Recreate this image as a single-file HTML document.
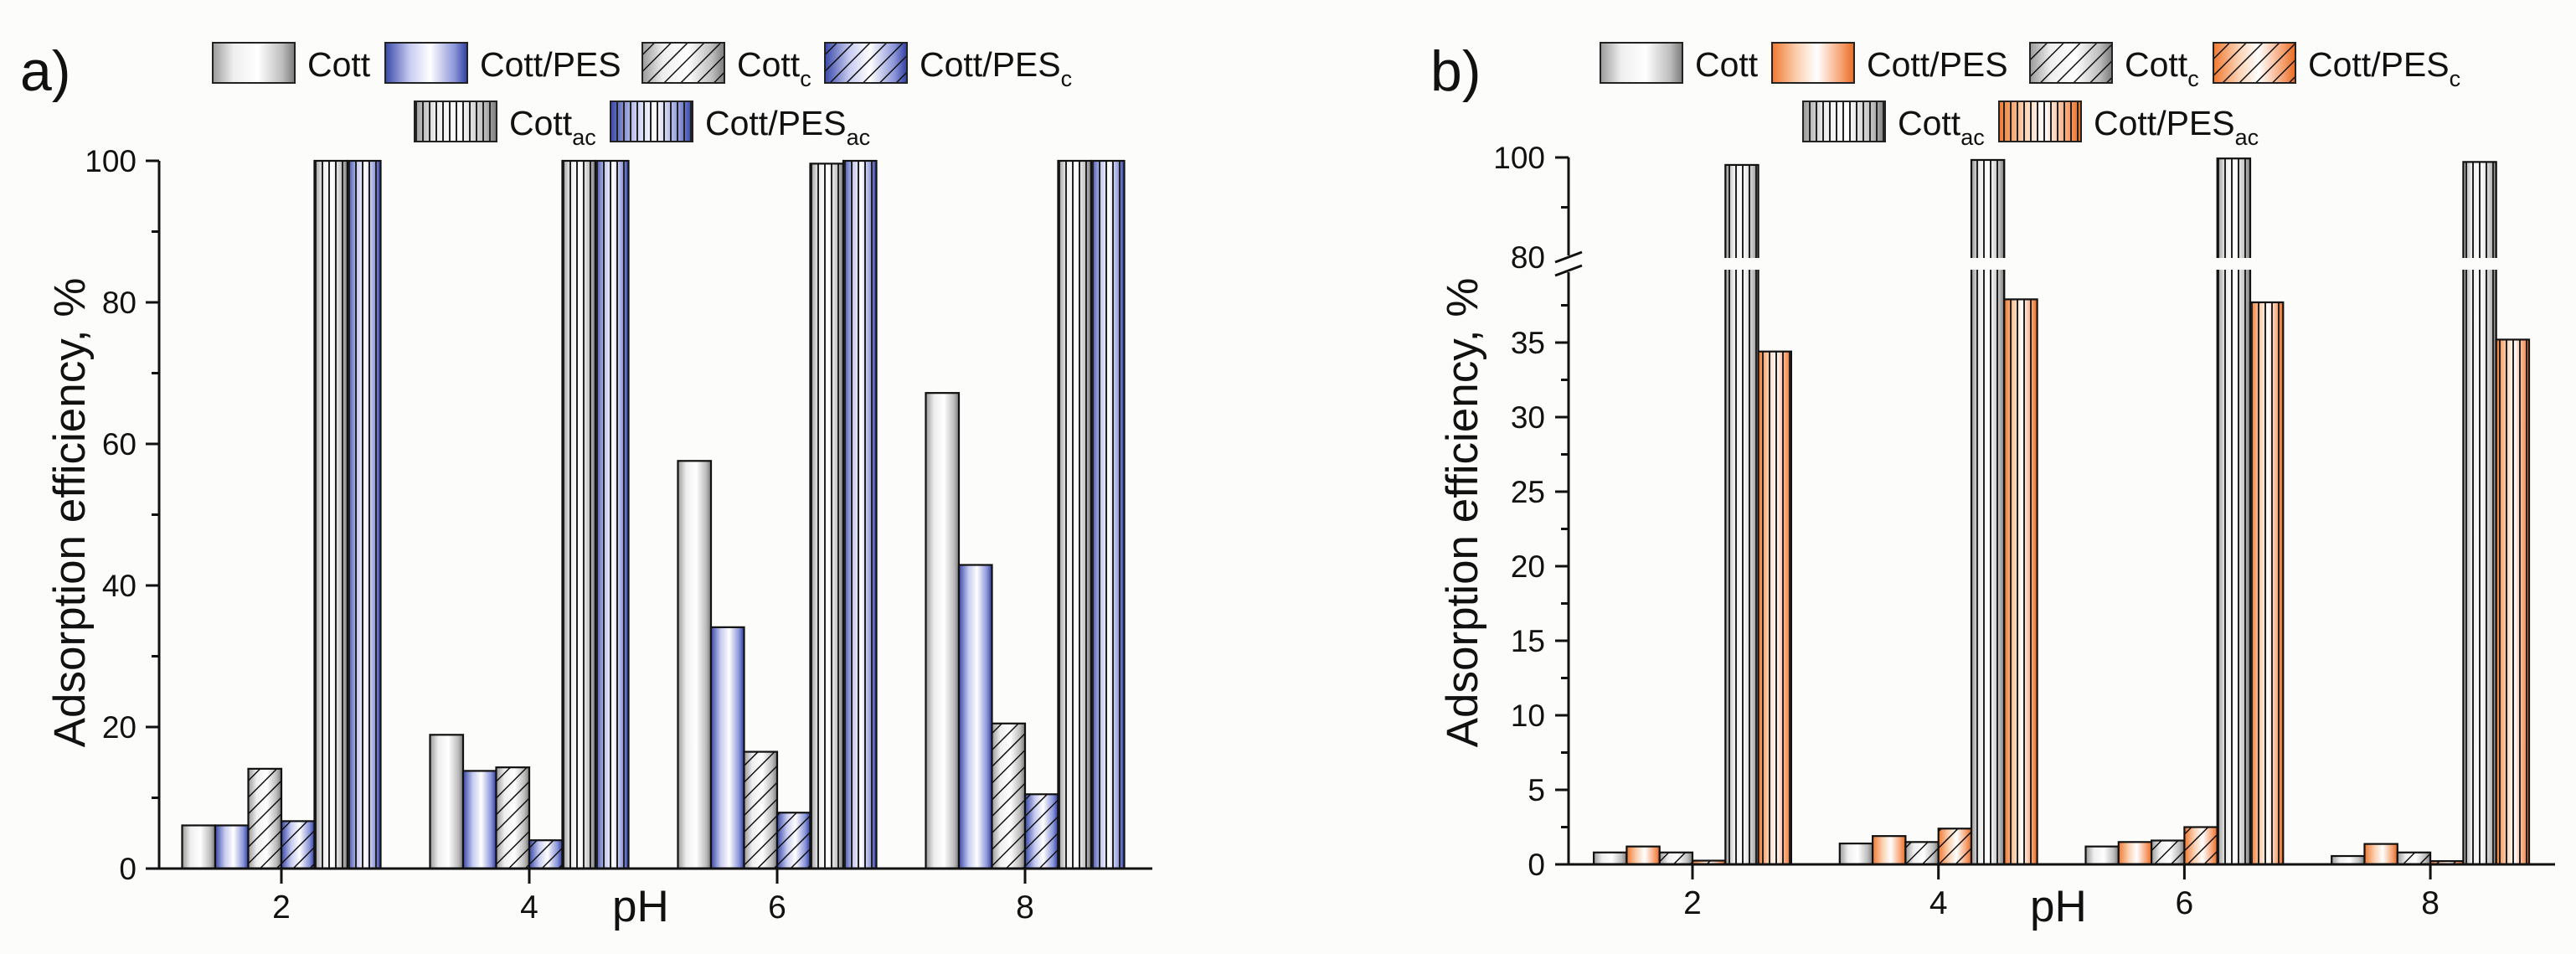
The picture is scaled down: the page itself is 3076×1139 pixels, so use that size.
<!DOCTYPE html>
<html><head><meta charset="utf-8"><style>
html,body{margin:0;padding:0;background:#fcfcfa;}
svg{display:block;font-family:"Liberation Sans",Arial,sans-serif;}
</style></head><body>
<svg id="fig" width="3076" height="1139" viewBox="0 0 3076 1139" xmlns="http://www.w3.org/2000/svg">
<defs>
<linearGradient id="gGray" x1="0" x2="1" y1="0" y2="0"><stop offset="0" stop-color="#9a9a9a"/><stop offset="0.25" stop-color="#eeeeee"/><stop offset="0.55" stop-color="#ffffff"/><stop offset="0.85" stop-color="#bdbdbd"/><stop offset="1" stop-color="#7a7a7a"/></linearGradient>
<linearGradient id="gBlue" x1="0" x2="1" y1="0" y2="0"><stop offset="0" stop-color="#3848a8"/><stop offset="0.3" stop-color="#c8ccf0"/><stop offset="0.55" stop-color="#ffffff"/><stop offset="0.85" stop-color="#8a94d8"/><stop offset="1" stop-color="#2e3ea0"/></linearGradient>
<linearGradient id="gOrange" x1="0" x2="1" y1="0" y2="0"><stop offset="0" stop-color="#f07830"/><stop offset="0.3" stop-color="#fbd0b0"/><stop offset="0.55" stop-color="#ffffff"/><stop offset="0.85" stop-color="#f6a070"/><stop offset="1" stop-color="#e86a20"/></linearGradient>
<pattern id="hatch" patternUnits="userSpaceOnUse" width="14" height="14" patternTransform="rotate(45)"><line x1="0" y1="0" x2="0" y2="14" stroke="#111" stroke-width="3"/></pattern>
<pattern id="vstripe" patternUnits="userSpaceOnUse" width="8" height="10"><line x1="1" y1="0" x2="1" y2="10" stroke="#222" stroke-width="2"/></pattern>
</defs>
<g id="root"></g>
</svg>
<script>
const categories = ["2", "4", "6", "8"];
const seriesNames = ["Cott", "Cott/PES", "Cott_c", "Cott/PES_c", "Cott_ac", "Cott/PES_ac"];
// panel a values
const aCott = [6.1, 18.9, 57.6, 67.2];
const aCottPES = [6.1, 13.8, 34.1, 42.9];
const aCottC = [14.1, 14.3, 16.5, 20.5];
const aCottPESC = [6.7, 4.0, 7.9, 10.5];
const aCottAC = [100, 100, 99.6, 100];
const aCottPESAC = [100, 100, 100, 100];
// panel b values
const bCott = [0.8, 1.4, 1.2, 0.56];
const bCottPES = [1.2, 1.9, 1.5, 1.37];
const bCottC = [0.8, 1.5, 1.6, 0.8];
const bCottPESC = [0.25, 2.4, 2.5, 0.22];
const bCottAC = [98.5, 99.5, 99.8, 99.1];
const bCottPESAC = [34.4, 37.9, 37.7, 35.2];
const aTicks = [0, 20, 40, 60, 80, 100];
const aMinor = [10, 30, 50, 70, 90];
const bTicksLow = [0, 5, 10, 15, 20, 25, 30, 35];
const bMinorLow = [2.5, 7.5, 12.5, 17.5, 22.5, 27.5, 32.5, 37.5];
const bTicksHigh = [80, 100];
const bMinorHigh = [90];

const NS = "http://www.w3.org/2000/svg";
const root = document.getElementById('root');
function mk(tag, attrs, parent) {
  const e = document.createElementNS(NS, tag);
  for (const k in attrs) e.setAttribute(k, attrs[k]);
  (parent || root).appendChild(e);
  return e;
}
function yA(v) { return 1037 - v * 8.45; }
function xA(i, j) { return 336 + i * 296 + (j - 3) * 39.5; }
function yB(v) { return v <= 40 ? 1032 - v * 17.8 : 307 - (v - 80) * 5.95; }
function xB(i, j) { return 2021 + i * 293.7 + (j - 3) * 39.3; }

function drawBar(x, y0, y1, w, fill, overlay, name, parent) {
  const g = mk('g', {}, parent);
  
  
  mk('rect', {x: x, y: y1, width: w, height: y0 - y1, fill: fill}, g);
  if (overlay) mk('rect', {x: x, y: y1, width: w, height: y0 - y1, fill: overlay}, g);
  mk('rect', {x: x, y: y1, width: w, height: y0 - y1, fill: 'none', stroke: '#111', 'stroke-width': 2.2}, g);
  return g;
}
const fills = [['url(#gGray)', null], ['COLOR', null], ['url(#gGray)', 'url(#hatch)'], ['COLOR', 'url(#hatch)'], ['url(#gGray)', 'url(#vstripe)'], ['COLOR', 'url(#vstripe)']];

function panel(opts) {
  const g = mk('g', {});
  
  
  const data = opts.data;
  for (let j = 0; j < 6; j++) {
    for (let i = 0; i < categories.length; i++) {
      const f = fills[j][0] === 'COLOR' ? opts.color : fills[j][0];
      const x = opts.x(i, j);
      drawBar(x, opts.y(0), opts.y(data[j][i]), opts.bw, f, fills[j][1], 'bar-' + seriesNames[j].toLowerCase().replace(/[\/_]/g, '-') + '-ph' + categories[i], g);
    }
  }
  return g;
}
const gA = panel({name: 'chart-a', data: [aCott, aCottPES, aCottC, aCottPESC, aCottAC, aCottPESAC], x: xA, y: yA, bw: 39.5, color: 'url(#gBlue)'});
const gB = panel({name: 'chart-b', data: [bCott, bCottPES, bCottC, bCottPESC, bCottAC, bCottPESAC], x: xB, y: yB, bw: 39.3, color: 'url(#gOrange)'});
const gap = mk('rect', {x: 1880, y: 308, width: 1180, height: 14, fill: '#fcfcfa'}, gB);



const axA = mk('g', {stroke: '#111', 'stroke-width': 3, fill: 'none'});


mk('line', {x1: 190, y1: 192, x2: 190, y2: 1037}, axA);
mk('line', {x1: 174, y1: 1037, x2: 1376, y2: 1037}, axA);
aTicks.forEach(v => mk('line', {x1: 174, y1: yA(v), x2: 190, y2: yA(v)}, axA));
aMinor.forEach(v => mk('line', {x1: 181, y1: yA(v), x2: 190, y2: yA(v)}, axA));
categories.forEach((c, i) => mk('line', {x1: xA(i, 3), y1: 1037, x2: xA(i, 3), y2: 1055}, axA));
aTicks.forEach(v => {
  const t = mk('text', {x: 163, y: yA(v) + 13, 'text-anchor': 'end', 'font-size': 37, fill: '#111'});
  t.textContent = v;
  
  
});
categories.forEach((c, i) => {
  const t = mk('text', {x: xA(i, 3), y: 1096, 'text-anchor': 'middle', 'font-size': 39, fill: '#111'});
  t.textContent = c;
  
  
});

const axB = mk('g', {stroke: '#111', 'stroke-width': 3, fill: 'none'});


mk('line', {x1: 1873, y1: 188, x2: 1873, y2: 305}, axB);
mk('line', {x1: 1873, y1: 325, x2: 1873, y2: 1032}, axB);
mk('line', {x1: 1857, y1: 1032, x2: 3051, y2: 1032}, axB);
mk('line', {x1: 1857, y1: 313, x2: 1889, y2: 301}, axB);
mk('line', {x1: 1857, y1: 329, x2: 1889, y2: 317}, axB);
bTicksLow.forEach(v => mk('line', {x1: 1857, y1: yB(v), x2: 1873, y2: yB(v)}, axB));
bMinorLow.forEach(v => mk('line', {x1: 1864, y1: yB(v), x2: 1873, y2: yB(v)}, axB));
bTicksHigh.forEach(v => { if (v !== 80) mk('line', {x1: 1857, y1: yB(v), x2: 1873, y2: yB(v)}, axB); });
bMinorHigh.forEach(v => mk('line', {x1: 1864, y1: yB(v), x2: 1873, y2: yB(v)}, axB));
categories.forEach((c, i) => mk('line', {x1: xB(i, 3), y1: 1032, x2: xB(i, 3), y2: 1050}, axB));
bTicksLow.concat(bTicksHigh).forEach(v => {
  const t = mk('text', {x: 1845, y: yB(v) + 13, 'text-anchor': 'end', 'font-size': 37, fill: '#111'});
  t.textContent = v;
  
  
});
categories.forEach((c, i) => {
  const t = mk('text', {x: xB(i, 3), y: 1091, 'text-anchor': 'middle', 'font-size': 39, fill: '#111'});
  t.textContent = c;
  
  
});

function legendItem(sx, sy, fill, overlay, label, sub, name) {
  const g = mk('g', {});
  
  
  mk('rect', {x: sx, y: sy, width: 98, height: 48, fill: fill}, g);
  if (overlay) mk('rect', {x: sx, y: sy, width: 98, height: 48, fill: overlay}, g);
  mk('rect', {x: sx, y: sy, width: 98, height: 48, fill: 'none', stroke: '#222', 'stroke-width': 2}, g);
  const t = mk('text', {x: sx + 113, y: sy + 40, 'font-size': 41, fill: '#111'}, g);
  t.textContent = label;
  if (sub) {
    const s = mk('tspan', {'font-size': 27, dy: 12}, t);
    s.textContent = sub;
  }
}
function legend(x0, c, sxs, pfx) {
  legendItem(sxs[0], 51, 'url(#gGray)', null, 'Cott', '', pfx + 'legend-cott');
  legendItem(sxs[1], 51, c, null, 'Cott/PES', '', pfx + 'legend-cott-pes');
  legendItem(sxs[2], 51, 'url(#gGray)', 'url(#hatch)', 'Cott', 'c', pfx + 'legend-cott-c');
  legendItem(sxs[3], 51, c, 'url(#hatch)', 'Cott/PES', 'c', pfx + 'legend-cott-pes-c');
  legendItem(sxs[4], 121, 'url(#gGray)', 'url(#vstripe)', 'Cott', 'ac', pfx + 'legend-cott-ac');
  legendItem(sxs[5], 121, c, 'url(#vstripe)', 'Cott/PES', 'ac', pfx + 'legend-cott-pes-ac');
}
legend(0, 'url(#gBlue)', [254, 460, 767, 985, 495, 729], 'a-');
legend(0, 'url(#gOrange)', [1911, 2116, 2424, 2643, 2153, 2387], 'b-');

function txt(x, y, s, size, name, extra) {
  const t = mk('text', Object.assign({x: x, y: y, 'font-size': size, fill: '#111'}, extra || {}));
  t.textContent = s;
  
  
  return t;
}
txt(24, 108, 'a)', 68, 'panel-label-a');
txt(1708, 108, 'b)', 68, 'panel-label-b');
txt(101, 612, 'Adsorption efficiency, %', 53, 'y-axis-title-a', {'text-anchor': 'middle', transform: 'rotate(-90 101 612)'});
txt(1764, 612, 'Adsorption efficiency, %', 53, 'y-axis-title-b', {'text-anchor': 'middle', transform: 'rotate(-90 1764 612)'});
txt(731, 1100, 'pH', 53, 'x-axis-title-a');
txt(2424, 1100, 'pH', 53, 'x-axis-title-b');
</script>
</body></html>
